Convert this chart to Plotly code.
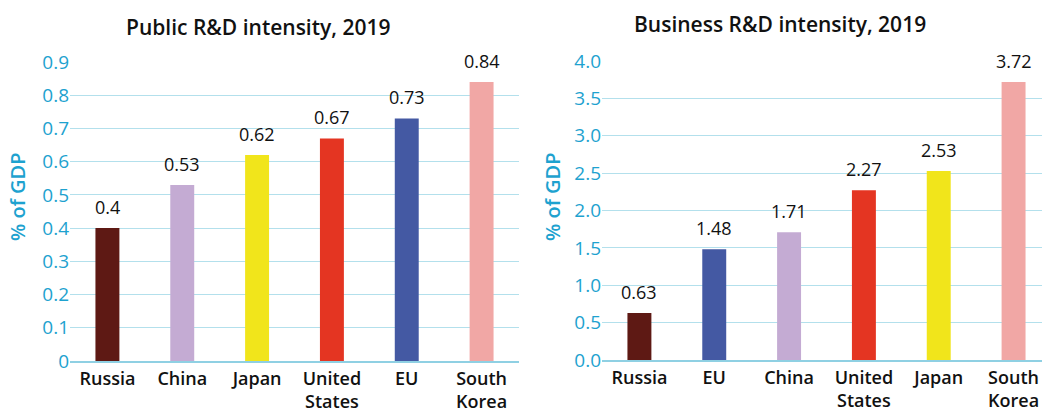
import plotly.graph_objects as go

# Data
public_countries = ["Russia", "China", "Japan", "United<br>States", "EU", "South<br>Korea"]
public_values = [0.40, 0.53, 0.62, 0.67, 0.73, 0.84]
public_labels = ["0.4", "0.53", "0.62", "0.67", "0.73", "0.84"]

business_countries = ["Russia", "EU", "China", "United<br>States", "Japan", "South<br>Korea"]
business_values = [0.63, 1.48, 1.71, 2.27, 2.53, 3.72]
business_labels = ["0.63", "1.48", "1.71", "2.27", "2.53", "3.72"]

country_colors = {
    "Russia": "#5e1914",
    "China": "#c4abd3",
    "Japan": "#f1e51b",
    "United<br>States": "#e43522",
    "EU": "#4459a3",
    "South<br>Korea": "#f1a7a5",
}

left_ticks = [0, 0.1, 0.2, 0.3, 0.4, 0.5, 0.6, 0.7, 0.8, 0.9]
left_ticktext = ["0", "0.1", "0.2", "0.3", "0.4", "0.5", "0.6", "0.7", "0.8", "0.9"]
right_ticks = [0, 0.5, 1.0, 1.5, 2.0, 2.5, 3.0, 3.5, 4.0]

titles = ["Public R&D intensity, 2019", "Business R&D intensity, 2019"]
y_title = "% of GDP"

FONT = "Open Sans"
TEAL = "#1ea2cf"
GRID = "#b3e0ec"
AXIS = "#8fd0e3"

W, H = 1042, 413

fig = go.Figure()
fig.add_trace(go.Bar(
    x=public_countries, y=public_values, width=0.32,
    marker=dict(color=[country_colors[c] for c in public_countries], line=dict(width=0)),
    xaxis="x", yaxis="y", showlegend=False, hoverinfo="skip",
))
fig.add_trace(go.Bar(
    x=business_countries, y=business_values, width=0.32,
    marker=dict(color=[country_colors[c] for c in business_countries], line=dict(width=0)),
    xaxis="x2", yaxis="y2", showlegend=False, hoverinfo="skip",
))

annotations = []
for c, v, t in zip(public_countries, public_values, public_labels):
    annotations.append(dict(x=c, y=v, xref="x", yref="y", text=t, showarrow=False,
                            yanchor="bottom", yshift=7,
                            font=dict(family=FONT, size=18, color="#111111")))
for c, v, t in zip(business_countries, business_values, business_labels):
    annotations.append(dict(x=c, y=v, xref="x2", yref="y2", text=t, showarrow=False,
                            yanchor="bottom", yshift=7,
                            font=dict(family=FONT, size=18, color="#111111")))

# titles
annotations.append(dict(x=258 / W, y=1 - 27 / H, xref="paper", yref="paper", text=titles[0],
                        showarrow=False, xanchor="center", yanchor="middle",
                        font=dict(family=FONT, size=21, color="#111111", weight=600)))
annotations.append(dict(x=780 / W, y=1 - 24 / H, xref="paper", yref="paper", text=titles[1],
                        showarrow=False, xanchor="center", yanchor="middle",
                        font=dict(family=FONT, size=21, color="#111111", weight=600)))
# y-axis titles
annotations.append(dict(x=17 / W, y=1 - 197 / H, xref="paper", yref="paper", text=y_title,
                        showarrow=False, textangle=-90, xanchor="center", yanchor="middle",
                        font=dict(family=FONT, size=20, color=TEAL, weight=600)))
annotations.append(dict(x=552 / W, y=1 - 197 / H, xref="paper", yref="paper", text=y_title,
                        showarrow=False, textangle=-90, xanchor="center", yanchor="middle",
                        font=dict(family=FONT, size=20, color=TEAL, weight=600)))

xaxis_common = dict(
    type="category", showgrid=False, zeroline=False, showline=True,
    linecolor=AXIS, linewidth=2, ticks="", ticklen=0, automargin=False,
    tickfont=dict(family=FONT, size=18, color="#111111", weight=600),
    fixedrange=True,
)
yaxis_common = dict(
    showgrid=True, gridcolor=GRID, gridwidth=1, zeroline=False, showline=False,
    ticks="", automargin=False, tickfont=dict(family=FONT, size=19, color=TEAL),
    fixedrange=True,
)

fig.update_layout(
    width=W, height=H,
    margin=dict(l=0, r=0, t=0, b=0, autoexpand=False),
    paper_bgcolor="white", plot_bgcolor="white",
    xaxis=dict(domain=[70 / W, 519 / W], range=[-0.5, 5.5], anchor="y", **xaxis_common),
    yaxis=dict(domain=[1 - 361 / H, 1 - 62 / H], range=[0, 0.9], anchor="x",
               tickvals=left_ticks, ticktext=left_ticktext, **yaxis_common),
    xaxis2=dict(domain=[602 / W, 1.0], range=[-0.5, 5.38], anchor="y2", **xaxis_common),
    yaxis2=dict(domain=[1 - 360 / H, 1 - 61 / H], range=[0, 4.0], anchor="x2",
                tickvals=right_ticks, tickformat=".1f", **yaxis_common),
    annotations=annotations,
    bargap=0.68,
)

fig.write_html("out.html", config={"displayModeBar": False},
               post_script="document.body.style.margin='0';document.body.style.overflow='hidden';")
